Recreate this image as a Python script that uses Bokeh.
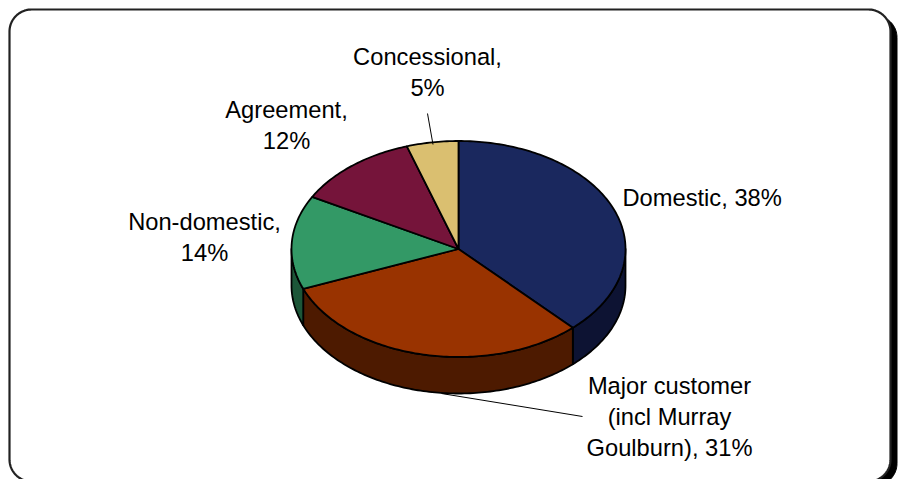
import math
from bokeh.plotting import figure
from bokeh.models import Range1d, ColumnDataSource
from bokeh.core.properties import value
from bokeh.embed import file_html
from bokeh.resources import INLINE

# Revenue share by customer group, clockwise from twelve o'clock
categories = ["Domestic", "Major customer (incl Murray Goulburn)", "Non-domestic", "Agreement", "Concessional"]
shares = [38, 31, 14, 12, 5]
top_colors = ["#1A285E", "#993300", "#339966", "#75143A", "#DABF70"]
side_colors = ["#0D1333", "#4D1A00", "#1C5638", "#3B0A1D", "#6E6038"]

label_lines = [
    ["Domestic, 38%"],
    ["Major customer", "(incl Murray", "Goulburn), 31%"],
    ["Non-domestic,", "14%"],
    ["Agreement,", "12%"],
    ["Concessional,", "5%"],
]

W, H = 899, 479
CX, CY, RX, RY, DEPTH = 458.0, 248.5, 167.0, 108.0, 36.5
FONT = value("Liberation Sans")
FONT_SIZE = value("23.7px")


def rim(angle):
    """Point on the pie's top ellipse, angle in degrees clockwise from the top."""
    a = math.radians(angle)
    return CX + RX * math.sin(a), CY - RY * math.cos(a)


def rounded_rect(x0, y0, x1, y1, r):
    xs, ys = [], []
    corners = [(x1 - r, y0 + r, -90), (x1 - r, y1 - r, 0), (x0 + r, y1 - r, 90), (x0 + r, y0 + r, 180)]
    for cx, cy, start in corners:
        for i in range(25):
            t = math.radians(start + 90 * i / 24)
            xs.append(cx + r * math.cos(t))
            ys.append(cy + r * math.sin(t))
    return xs, ys


p = figure(width=W, height=H, output_backend="svg", toolbar_location=None,
           x_range=Range1d(0, W), y_range=Range1d(H, 0), min_border=0,
           outline_line_color=None, background_fill_color="white", border_fill_color="white")
p.axis.visible = False
p.grid.visible = False

# Rounded chart frame with its hard drop shadow
sx, sy = rounded_rect(15, 15, 896.5, 485, 22)
p.patch(sx, sy, fill_color="black", line_color="black", line_width=1)
fx, fy = rounded_rect(9, 9, 890, 481, 22)
p.patch(fx, fy, fill_color="white", line_color="#222222", line_width=2.2)

# Slice extents in degrees
edges = [0.0]
for s in shares:
    edges.append(edges[-1] + s / sum(shares) * 360)

# Side wall: only the part of each slice on the front half of the pie
side_xs, side_ys, side_fill = [], [], []
for i, color in enumerate(side_colors):
    lo, hi = max(edges[i], 90.0), min(edges[i + 1], 270.0)
    if hi <= lo:
        continue
    steps = max(2, int(hi - lo))
    pts = [rim(lo + (hi - lo) * k / steps) for k in range(steps + 1)]
    side_xs.append([q[0] for q in pts] + [q[0] for q in reversed(pts)])
    side_ys.append([q[1] for q in pts] + [q[1] + DEPTH for q in reversed(pts)])
    side_fill.append(color)
p.patches("x", "y", source=ColumnDataSource(dict(x=side_xs, y=side_ys, c=side_fill)),
          fill_color="c", line_color="black", line_width=1.8, line_join="round")

# Top face of each slice
top_xs, top_ys = [], []
for i in range(len(shares)):
    steps = max(2, int(edges[i + 1] - edges[i]))
    pts = [rim(edges[i] + (edges[i + 1] - edges[i]) * k / steps) for k in range(steps + 1)]
    top_xs.append([CX] + [q[0] for q in pts])
    top_ys.append([CY] + [q[1] for q in pts])
p.patches("x", "y", source=ColumnDataSource(dict(x=top_xs, y=top_ys, c=top_colors)),
          fill_color="c", line_color="black", line_width=1.8, line_join="round")

# Leader lines for the two labels that sit away from their slices
p.line([427, 432.5], [113, 144], line_color="black", line_width=1)
p.line([441, 582], [393, 416], line_color="black", line_width=1)

# Data labels: x anchor, alignment, first baseline
placement = [(622, "left", 206 - 9), (669, "center", 385), (204, "center", 221),
             (286, "center", 109), (427, "center", 56)]
LEADING = 31
for lines, (x, align, base) in zip(label_lines, placement):
    p.text([x] * len(lines), [base + LEADING * k for k in range(len(lines))], text=lines,
           text_font=FONT, text_font_size=FONT_SIZE, text_color="black",
           text_align=align, text_baseline="alphabetic")

open("out.html", "w").write(file_html(p, INLINE))
